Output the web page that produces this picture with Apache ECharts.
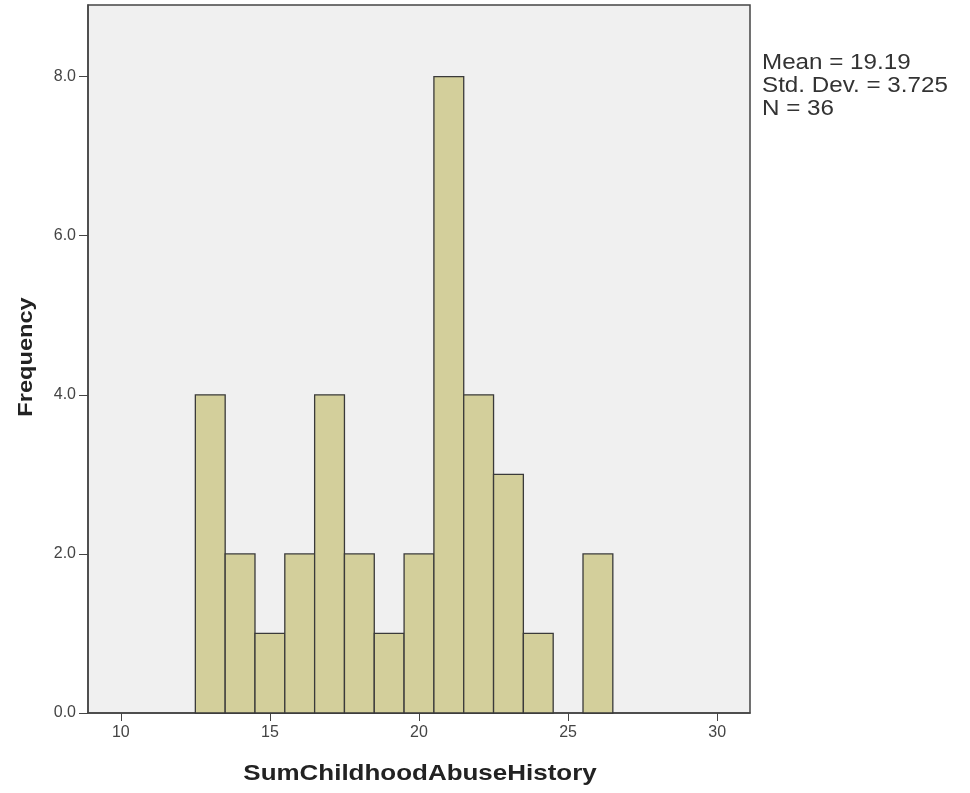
<!DOCTYPE html>
<html><head><meta charset="utf-8">
<script src="https://cdn.jsdelivr.net/npm/echarts@6/dist/echarts.min.js"></script>
<style>html,body{margin:0;padding:0;background:#fff}#c{width:970px;height:793px}</style>
</head><body><div id="c"></div>
<script>
const binCenters = [13,14,15,16,17,18,19,20,21,22,23,24,25,26];
const frequencies = [4,2,1,2,4,2,1,2,8,4,3,1,0,2];
const xTicks = [10,15,20,25,30];
const yTicks = [0,2,4,6,8];
const xTitle = 'SumChildhoodAbuseHistory';
const yTitle = 'Frequency';
const statsLines = ['Mean = 19.19','Std. Dev. = 3.725','N = 36'];

const chart = echarts.init(document.getElementById('c'));
const data = binCenters.map((c,i)=>[c, frequencies[i]]);
const FONT = '"Liberation Sans", Arial, sans-serif';
chart.setOption({
  animation:false,
  grid:{left:88,right:220,top:5,bottom:80,show:true,backgroundColor:'#f0f0f0',borderColor:'#444',borderWidth:1.5},
  xAxis:{type:'value',min:8.9,max:31.1,
    axisLine:{show:true,lineStyle:{color:'#444',width:1.5}},
    axisTick:{show:true,length:8,customValues:xTicks,lineStyle:{color:'#444'}},
    axisLabel:{customValues:xTicks,fontFamily:FONT,fontSize:16,color:'#444',margin:12},
    splitLine:{show:false}},
  yAxis:{type:'value',min:0,max:8.9,
    axisLine:{show:true,lineStyle:{color:'#444',width:1.5}},
    axisTick:{show:true,length:9,customValues:yTicks,lineStyle:{color:'#444'}},
    axisLabel:{customValues:yTicks,formatter:v=>v.toFixed(1),fontFamily:FONT,fontSize:16,color:'#444',margin:12},
    splitLine:{show:false}},
  graphic:[
    {type:'text',x:420,y:774,scaleX:1.18,style:{text:xTitle,font:'bold 22px '+FONT,fill:'#222',align:'center',verticalAlign:'middle'}},
    {type:'text',x:26,y:357,rotation:Math.PI/2,scaleX:1.18,style:{text:yTitle,font:'bold 20px '+FONT,fill:'#222',align:'center',verticalAlign:'middle'}},
    {type:'text',x:762,y:51,scaleX:1.1,style:{text:statsLines.join('\n'),font:'22px '+FONT,fill:'#333',lineHeight:23}}
  ],
  series:[{type:'custom',data:data,
    renderItem:function(params,api){
      const x=api.value(0), y=api.value(1);
      if(!y) return null;
      const p0=api.coord([x-0.5,y]), p1=api.coord([x+0.5,0]);
      return {type:'rect',shape:{x:p0[0],y:p0[1],width:p1[0]-p0[0],height:p1[1]-p0[1]},
        style:{fill:'#d3cf9b',stroke:'#3a3a3a',lineWidth:1.3}};
    }}]
});
</script></body></html>
